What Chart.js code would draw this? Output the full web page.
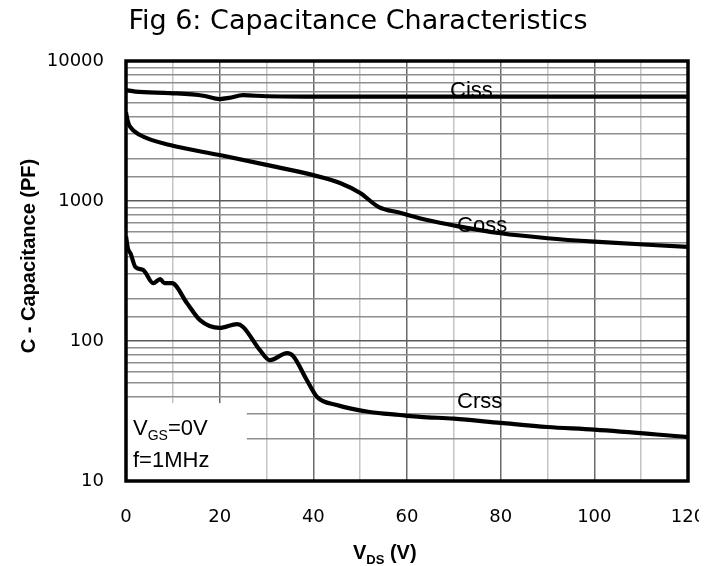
<!DOCTYPE html>
<html><head><meta charset="utf-8">
<script src="https://cdn.jsdelivr.net/npm/chart.js@4.4.1/dist/chart.umd.min.js"></script>
<style>
html,body{margin:0;padding:0;background:#fff}
#wrap{width:699px;height:566px;overflow:hidden;position:relative;background:#fff}
canvas{display:block}
</style></head>
<body><div id="wrap"><canvas id="c" width="718" height="566"></canvas></div>
<script>
// ---- data (V_DS in volts, capacitance in pF) ----
const cissV = [0, 2, 9.4, 16.5, 20, 22, 25, 30, 40, 60, 80, 100, 120];
const cissC = [6200, 6050, 5900, 5650, 5350, 5450, 5700, 5600, 5570, 5560, 5560, 5560, 5560];

const cossV = [0, 0.4, 0.9, 3, 9.4, 20, 30, 40, 45.7, 50, 54, 58.5, 64.3, 70.7, 80, 90, 100, 120];
const cossC = [4300, 3700, 3380, 2960, 2510, 2130, 1810, 1530, 1345, 1140, 905, 824, 731, 662, 588, 542, 512, 470];

const crssV = [0, 0.4, 1.0, 2, 3.7, 5.8, 7.3, 8.2, 9.8, 13, 15.8, 20, 23.7, 25, 28.6, 30.7, 34.4, 35.7, 38.6, 40.8, 45, 52, 58.5, 62.8, 70, 80, 90, 100, 120];
const crssC = [560, 460, 420, 338, 321, 259, 277, 259, 259, 187, 141, 124, 132, 126, 86, 73, 82, 78, 52.6, 39.8, 34.9, 31.1, 29.6, 28.7, 27.9, 26, 24.3, 23.3, 20.6];

const seriesNames = ['Ciss', 'Coss', 'Crss'];
const labelV = [69.2, 70.7, 70.7];
const labelC = [5530, 601, 33.2];

const xMin = 0, xMax = 120, xStep = 10, xLabelStep = 20;
const yMin = 10, yMax = 10000;

const titleText = 'Fig 6: Capacitance Characteristics';
const yTitle = 'C - Capacitance (PF)';
const noteLine1 = ['V', 'GS', '=0V'];
const noteLine2 = 'f=1MHz';
const noteBoxV = 25.8, noteBoxC = 36;

function pts(xs, ys) { return xs.map((x, i) => ({x: x, y: ys[i]})); }

const isDecade = v => Math.abs(Math.log10(v) - Math.round(Math.log10(v))) < 1e-9;

const decor = {
  id: 'decor',
  beforeDatasetsDraw(chart) {
    const {ctx, chartArea: a, scales: {x, y}} = chart;
    ctx.save();
    // note box
    const bx = x.getPixelForValue(noteBoxV), by = y.getPixelForValue(noteBoxC);
    ctx.fillStyle = '#fff';
    ctx.fillRect(a.left, by, bx - a.left, a.bottom - by);
    ctx.fillStyle = '#000';
    ctx.textBaseline = 'alphabetic';
    ctx.textAlign = 'left';
    let tx = a.left + 7;
    ctx.font = '22px "Liberation Sans"';
    ctx.fillText(noteLine1[0], tx, a.bottom - 46);
    tx += ctx.measureText(noteLine1[0]).width;
    ctx.font = '14px "Liberation Sans"';
    ctx.fillText(noteLine1[1], tx, a.bottom - 41);
    tx += ctx.measureText(noteLine1[1]).width;
    ctx.font = '22px "Liberation Sans"';
    ctx.fillText(noteLine1[2], tx, a.bottom - 46);
    ctx.fillText(noteLine2, a.left + 7, a.bottom - 14);
    // curve labels
    ctx.font = '22px "Liberation Sans"';
    seriesNames.forEach((n, i) => {
      ctx.fillText(n, x.getPixelForValue(labelV[i]), y.getPixelForValue(labelC[i]));
    });
    ctx.restore();
  },
  afterDatasetsDraw(chart) {
    const {ctx, chartArea: a} = chart;
    ctx.save();
    ctx.strokeStyle = '#000';
    ctx.lineWidth = 3.5;
    ctx.strokeRect(a.left, a.top, a.right - a.left, a.bottom - a.top);
    ctx.restore();
  },
  afterDraw(chart) {
    const {ctx} = chart;
    ctx.save();
    ctx.fillStyle = '#000';
    ctx.textBaseline = 'alphabetic';
    // chart title
    ctx.textAlign = 'center';
    ctx.font = '27px "DejaVu Sans"';
    ctx.fillText(titleText, 358, 29);
    // y title
    ctx.save();
    ctx.translate(35, 256);
    ctx.rotate(-Math.PI / 2);
    ctx.textAlign = 'center';
    ctx.font = 'bold 20px "Liberation Sans"';
    ctx.fillText(yTitle, 0, 0);
    ctx.restore();
    // x title V_DS (V)
    ctx.textAlign = 'left';
    let tx = 353;
    ctx.font = 'bold 20px "Liberation Sans"';
    ctx.fillText('V', tx, 559);
    tx += ctx.measureText('V').width;
    ctx.font = 'bold 13px "Liberation Sans"';
    ctx.fillText('DS', tx, 564);
    tx += ctx.measureText('DS').width;
    ctx.font = 'bold 20px "Liberation Sans"';
    ctx.fillText(' (V)', tx, 559);
    ctx.restore();
  }
};

const lineStyle = {borderColor: '#000', backgroundColor: '#000', borderWidth: 4.2, pointRadius: 0,
  cubicInterpolationMode: 'monotone', fill: false};

new Chart(document.getElementById('c'), {
  type: 'line',
  data: {
    datasets: [
      Object.assign({label: seriesNames[0], data: pts(cissV, cissC)}, lineStyle),
      Object.assign({label: seriesNames[1], data: pts(cossV, cossC)}, lineStyle),
      Object.assign({label: seriesNames[2], data: pts(crssV, crssC)}, lineStyle)
    ]
  },
  options: {
    responsive: false,
    animation: false,
    layout: {padding: {left: 0, right: 30, top: 61, bottom: 0}},
    plugins: {
      legend: {display: false},
      tooltip: {enabled: false},
      title: {display: false}
    },
    scales: {
      x: {
        type: 'linear', min: xMin, max: xMax,
        afterFit: s => { s.height = 85; },
        border: {display: false},
        grid: {drawTicks: true, tickLength: 26, tickColor: 'rgba(0,0,0,0)',
          color: c => (c.tick && c.tick.value % xLabelStep === 0) ? '#6a6a6a' : '#c4c4c4',
          lineWidth: 1.5},
        ticks: {stepSize: xStep, padding: 0, color: '#000', maxRotation: 0, autoSkip: false,
          font: {family: 'DejaVu Sans', size: 18},
          callback: v => (v % xLabelStep === 0 ? String(v) : '')}
      },
      y: {
        type: 'logarithmic', min: yMin, max: yMax,
        afterFit: s => { s.width = 126; },
        border: {display: false},
        grid: {drawTicks: false,
          color: c => (c.tick && isDecade(c.tick.value)) ? '#5a5a5a' : '#8e8e8e',
          lineWidth: 1.6},
        ticks: {padding: 22, color: '#000', autoSkip: false,
          font: {family: 'DejaVu Sans', size: 18},
          callback: v => (isDecade(v) ? String(v) : '')}
      }
    }
  },
  plugins: [decor]
});
</script>
</body></html>
